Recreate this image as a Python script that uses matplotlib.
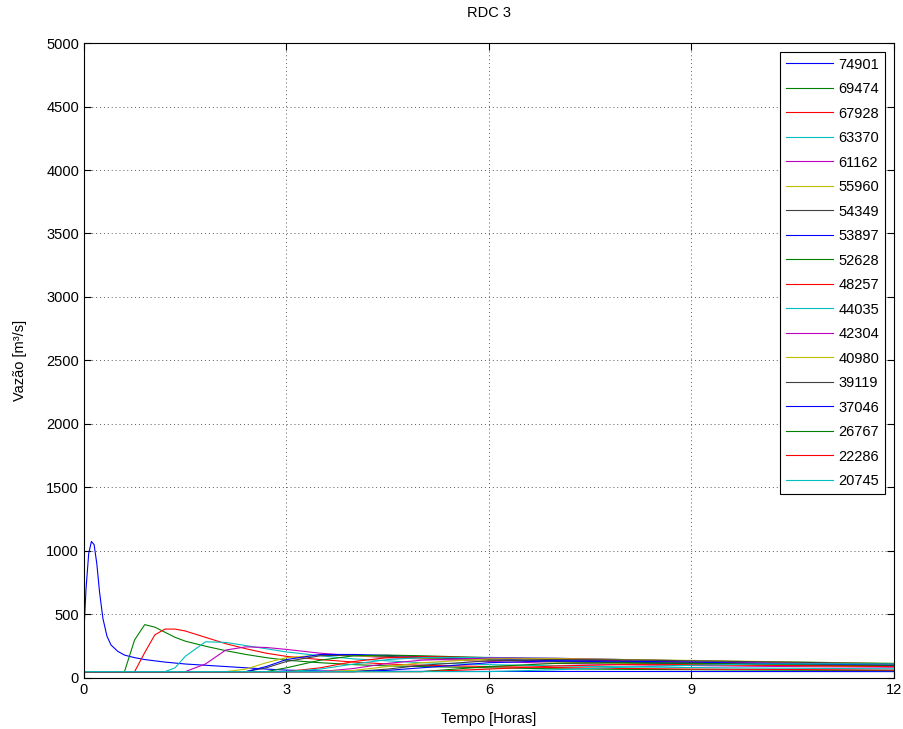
import numpy as np
import matplotlib
matplotlib.use('Agg')
import matplotlib.pyplot as plt

plt.rcParams['font.family'] = ['Liberation Sans', 'DejaVu Sans']

# Time grid [hours]
tempo = [0, 0.06, 0.13, 0.2, 0.3, 0.45, 0.6, 0.75, 0.9, 1.05, 1.2, 1.35, 1.5, 1.8,
         2.1, 2.4, 2.7, 3.0, 3.5, 4.0, 4.5, 5.0, 6.0, 7.0, 8.0, 9.0, 10.0, 11.0, 12.0]
# the first hydrograph is sharper, so it gets its own finer time list
tempo_74901 = [0, 0.03, 0.07, 0.11, 0.15, 0.19, 0.23, 0.28, 0.34, 0.4, 0.5, 0.6, 0.75, 0.9,
               1.05, 1.2, 1.5, 1.8, 2.1, 2.4, 2.7, 3.0, 3.5, 4.0, 12.0]

# Discharge per catchment [m3/s]
labels = ['74901', '69474', '67928', '63370', '61162', '55960', '54349', '53897', '52628',
          '48257', '44035', '42304', '40980', '39119', '37046', '26767', '22286', '20745']

q_74901 = [370, 700, 980, 1075, 1050, 900, 680, 470, 330, 260, 210, 180, 160, 145, 135, 125, 110, 100, 90, 80, 70, 62, 55, 52, 50]
q_69474 = [50, 50, 50, 50, 50, 50, 50, 300, 420, 400, 360, 320, 290, 250, 215, 185, 160, 140, 120, 105, 95, 90, 80, 72, 68, 65, 62, 60, 58]
q_67928 = [50, 50, 50, 50, 50, 50, 50, 50, 200, 340, 385, 385, 370, 320, 270, 230, 195, 170, 145, 125, 110, 100, 90, 82, 75, 70, 68, 65, 62]
q_63370 = [50, 50, 50, 50, 50, 50, 50, 50, 50, 50, 50, 80, 170, 285, 280, 255, 230, 205, 175, 150, 135, 120, 105, 95, 88, 82, 78, 75, 72]
q_61162 = [50, 50, 50, 50, 50, 50, 50, 50, 50, 50, 50, 50, 50, 110, 220, 245, 240, 225, 195, 175, 160, 150, 130, 115, 105, 98, 92, 88, 85]
q_55960 = [50, 50, 50, 50, 50, 50, 50, 50, 50, 50, 50, 50, 50, 50, 50, 70, 120, 160, 180, 175, 165, 155, 140, 125, 115, 108, 100, 95, 90]
q_54349 = [50, 50, 50, 50, 50, 50, 50, 50, 50, 50, 50, 50, 50, 50, 50, 50, 80, 130, 175, 180, 170, 160, 145, 130, 120, 112, 105, 100, 95]
q_53897 = [50, 50, 50, 50, 50, 50, 50, 50, 50, 50, 50, 50, 50, 50, 50, 50, 90, 145, 185, 185, 178, 168, 150, 135, 125, 115, 108, 102, 98]
q_52628 = [50, 50, 50, 50, 50, 50, 50, 50, 50, 50, 50, 50, 50, 50, 50, 50, 50, 80, 140, 175, 180, 175, 160, 145, 132, 122, 115, 108, 103]
q_48257 = [50, 50, 50, 50, 50, 50, 50, 50, 50, 50, 50, 50, 50, 50, 50, 50, 50, 50, 80, 130, 160, 168, 160, 148, 135, 125, 118, 112, 106]
q_44035 = [50, 50, 50, 50, 50, 50, 50, 50, 50, 50, 50, 50, 50, 50, 50, 50, 50, 50, 70, 110, 145, 160, 162, 155, 145, 135, 128, 122, 115]
q_42304 = [50, 50, 50, 50, 50, 50, 50, 50, 50, 50, 50, 50, 50, 50, 50, 50, 50, 50, 50, 75, 115, 140, 158, 155, 145, 135, 125, 118, 110]
q_40980 = [50, 50, 50, 50, 50, 50, 50, 50, 50, 50, 50, 50, 50, 50, 50, 50, 50, 50, 50, 60, 90, 120, 150, 152, 145, 138, 130, 122, 115]
q_39119 = [50, 50, 50, 50, 50, 50, 50, 50, 50, 50, 50, 50, 50, 50, 50, 50, 50, 50, 50, 50, 70, 100, 135, 145, 142, 135, 128, 120, 112]
q_37046 = [50, 50, 50, 50, 50, 50, 50, 50, 50, 50, 50, 50, 50, 50, 50, 50, 50, 50, 50, 50, 60, 80, 120, 135, 132, 125, 115, 108, 100]
q_26767 = [50, 50, 50, 50, 50, 50, 50, 50, 50, 50, 50, 50, 50, 50, 50, 50, 50, 50, 50, 50, 50, 50, 90, 115, 120, 115, 108, 100, 95]
q_22286 = [50, 50, 50, 50, 50, 50, 50, 50, 50, 50, 50, 50, 50, 50, 50, 50, 50, 50, 50, 50, 50, 50, 70, 95, 105, 105, 100, 95, 90]
q_20745 = [50, 50, 50, 50, 50, 50, 50, 50, 50, 50, 50, 50, 50, 50, 50, 50, 50, 50, 50, 50, 50, 50, 50, 65, 85, 100, 110, 112, 110]

series = [q_74901, q_69474, q_67928, q_63370, q_61162, q_55960, q_54349, q_53897, q_52628,
          q_48257, q_44035, q_42304, q_40980, q_39119, q_37046, q_26767, q_22286, q_20745]
tempos = [tempo_74901] + [tempo] * (len(series) - 1)

# old MATLAB default color order
cores = [(0, 0, 1), (0, 0.5, 0), (1, 0, 0), (0, 0.75, 0.75),
         (0.75, 0, 0.75), (0.75, 0.75, 0), (0.25, 0.25, 0.25)]

fig = plt.figure(figsize=(9.04, 7.29), dpi=100)
ax = fig.add_axes([0.0929, 0.070, 0.896, 0.871])

for i, (lab, t, q) in enumerate(zip(labels, tempos, series)):
    ax.plot(t, q, color=cores[i % len(cores)], lw=0.8, label=lab)

ax.set_xlim(0, 12)
ax.set_ylim(0, 5000)
ax.set_xticks([0, 3, 6, 9, 12])
ax.set_yticks(np.arange(0, 5001, 500))
ax.grid(True, linestyle=(0, (1, 3)), color='0.35', lw=0.7)
ax.tick_params(direction='in', top=True, right=True, labelsize=10.5, length=5)
for s in ax.spines.values():
    s.set_linewidth(0.8)

ax.set_title('RDC 3', fontsize=10.5, pad=19)
ax.set_xlabel('Tempo [Horas]', fontsize=10.5, labelpad=11)
ax.set_ylabel('Vazão [m³/s]', fontsize=10.5, labelpad=14)

leg = ax.legend(loc='upper right', fontsize=10.5, fancybox=False, framealpha=1,
                edgecolor='black', labelspacing=0.72, handlelength=3.2,
                borderaxespad=0.6, handletextpad=0.4)
leg.get_frame().set_linewidth(0.8)

fig.savefig('out.png', dpi=100)
